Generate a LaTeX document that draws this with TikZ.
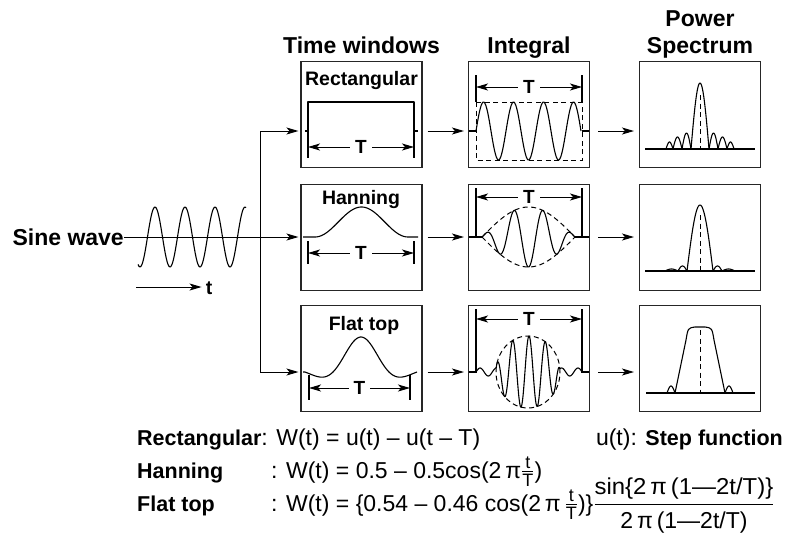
\documentclass[tikz,border=0pt]{standalone}
\usepackage{amsmath}
\usepackage{fontspec}
\setmainfont{Liberation Sans}
\usetikzlibrary{arrows.meta}

\newcommand\hfrac[2]{\ensuremath{\genfrac{}{}{0.7pt}{}{\hbox{\fontsize{18}{18}\selectfont #1}}{\hbox{\fontsize{18}{18}\selectfont #2}}}}
\newcommand\blab[1]{{\fontsize{21.5}{24}\selectfont\bfseries #1}}

\begin{document}
\begin{tikzpicture}[x=1pt,y=-1pt,>={Stealth[length=12pt,width=7pt,inset=3pt]},
  box/.style={draw=black!85,line width=1.1pt,minimum width=121pt,minimum height=106pt,inner sep=0pt},
  flow/.style={->,line width=1pt},
  dim/.style={<->,line width=1pt},
  wave/.style={line width=1.1pt,line join=round},
  env/.style={line width=1pt,dash pattern=on 5pt off 3.5pt},
  head/.style={font=\fontsize{23}{27}\selectfont\bfseries,anchor=base,inner sep=0pt},
  wtitle/.style={font=\fontsize{19.5}{22}\selectfont\bfseries,anchor=base,inner sep=0pt},
  tee/.style={font=\fontsize{19}{22}\selectfont\bfseries,fill=white,inner xsep=5pt,inner ysep=1pt},
  formula/.style={font=\fontsize{23}{26}\selectfont,anchor=base west,inner sep=0pt}]
  \useasboundingbox (0,0) rectangle (792,538);

  \node[head] (hwin) at (361.5,53) {Time windows};
  \node[head] (hint) at (529,53) {Integral};
  \node[head] (hpow) at (700,26) {Power};
  \node[head] (hspec) at (700,53) {Spectrum};

  \node[box] (tw1) at (361.5,114.3) {};
  \node[box] (tw2) at (361.5,237.2) {};
  \node[box] (tw3) at (361.5,358.9) {};
  \node[box] (ig1) at (529,114.3) {};
  \node[box] (ig2) at (529,237.2) {};
  \node[box] (ig3) at (529,358.9) {};
  \node[box] (ps1) at (700,114.3) {};
  \node[box] (ps2) at (700,237.2) {};
  \node[box] (ps3) at (700,358.9) {};

  % input
  \node[head,anchor=east] (sine) at (124,237) {Sine wave};
  \draw[wave] plot[domain=138:246,samples=120] (\x,{237-30*cos(12*(\x-155))});
  \coordinate (lv1) at (260,131);
  \coordinate (lv2) at (260,237);
  \coordinate (lv3) at (260,372);
  \coordinate (tstart) at (136,287);
  \node[wtitle,anchor=center] (tlab) at (209,288) {t};
  \draw[flow,shorten >=4pt] (tstart) -- (tlab.west |- tstart);
  \draw[line width=1pt] (lv1) -- (lv3);
  \draw[flow,shorten >=2pt] (lv1) -- (tw1.west |- lv1);
  \draw[flow,shorten >=2pt] (sine.east) -- (tw2.west |- lv2);
  \draw[flow,shorten >=2pt] (lv3) -- (tw3.west |- lv3);
  \foreach \r in {1,2,3} {
    \draw[flow,shorten <=5pt,shorten >=4pt] (tw\r.east |- lv\r) -- (ig\r.west |- lv\r);
    \draw[flow,shorten <=8pt,shorten >=5pt] (ig\r.east |- lv\r) -- (ps\r.west |- lv\r);
  }

  % time windows
  \node[wtitle] (lrect) at (361.5,85) {Rectangular};
  \draw[wave] (305,131) -- (308,131) -- (308,102) -- (414,102) -- (414,131) -- (418,131);
  \draw[wave] (308,131) -- (308,158) (414,131) -- (414,158);
  \draw[dim] (308,147) -- node[tee] (t1) {T} (414,147);

  \node[wtitle] (lhan) at (361,204.5) {Hanning};
  \draw[wave] (303,237) -- (315,237) -- plot[domain=315:408,samples=60] (\x,{237-30*(0.5-0.5*cos(3.871*(\x-315)))}) -- (418,237);
  \draw[wave] (308,241) -- (308,264) (414,241) -- (414,264);
  \draw[dim] (308,253) -- node[tee] (t2) {T} (414,253);

  \node[wtitle] (lflat) at (364,330) {Flat top};
  \draw[wave] (303,372) -- plot[domain=0:1,samples=100] ({305+112*\x},{372-35*(0.8-0.2*cos(360*\x))*sin(360*(1-2*\x))/(6.2832*(1-2*\x))}) -- (417,372);
  \draw[wave] (309,375) -- (309,400) (410,375) -- (410,400);
  \draw[dim] (309,388) -- node[tee] (t3) {T} (410,388);

  % integral
  \draw[wave] (476,75) -- (476,102) (582,75) -- (582,102);
  \draw[env] (476,102) rectangle (582,160);
  \draw[wave] (469,131) -- (476,131) (582,131) -- (589,131);
  \draw[wave] plot[domain=476:581,samples=120] (\x,{131-29*sin(12*(\x-476))});
  \draw[dim] (476,87) -- node[tee] (t4) {T} (582,87);

  \draw[wave] (476,188) -- (476,238) (582,188) -- (582,238);
  \draw[wave] (469,237) -- (482,237) (575,237) -- (589,237);
  \draw[env] plot[domain=482:575,samples=60] (\x,{237-30*sin(1.9355*(\x-482))});
  \draw[env] plot[domain=482:575,samples=60] (\x,{237+30*sin(1.9355*(\x-482))});
  \draw[wave] plot[domain=482:575,samples=160] (\x,{237+30*sin(1.9355*(\x-482))*cos(12.414*(\x-528.5))});
  \draw[dim] (476,197) -- node[tee] (t5) {T} (582,197);

  \draw[wave] (476,309) -- (476,373) (582,309) -- (582,373);
  \draw[wave] (469,372) -- (476,372) (582,372) -- (589,372);
  \draw[env] (528,372) ellipse [x radius=32pt,y radius=36pt];
  \draw[wave] plot[domain=476:582,samples=220] (\x,{372-max(4,36*sqrt(max(0,1-((\x-528)/32)*((\x-528)/32))))*sin(22.07*(\x-476))});
  \draw[dim] (476,319) -- node[tee] (t6) {T} (582,319);

  % power spectrum
  \draw[wave] (645,149) -- (755,149);
  \draw[wave] plot[domain=691:709,samples=40] (\x,{149-66*cos(10*(\x-700))});
  \foreach \a/\b/\h in {666/673/7,673/682/12,682/691/16,709/718/16,718/727/12,727/734/7}
    \draw[wave] plot[domain=\a:\b,samples=20] (\x,{149-\h*sin(180*(\x-\a)/(\b-\a))});
  \draw[env] (700,95) -- (700,149);

  \draw[wave] (645,271) -- (755,271);
  \draw[wave] plot[domain=687:713,samples=40] (\x,{271-66*cos(6.923*(\x-700))});
  \foreach \a/\b/\h in {665/678/2,678/687/5,713/722/5,722/735/2}
    \draw[wave] plot[domain=\a:\b,samples=20] (\x,{271-\h*sin(180*(\x-\a)/(\b-\a))});
  \draw[env] (700,215) -- (700,271);

  \draw[wave] (646,393) -- (755,393);
  \draw[wave] (675,393) -- (686,340) .. controls (688,328) .. (695,327) -- (705,327)
    .. controls (712,328) .. (714,340) -- (725,393);
  \foreach \a/\b/\h in {667/675/7,725/733/7}
    \draw[wave] plot[domain=\a:\b,samples=20] (\x,{393-\h*sin(180*(\x-\a)/(\b-\a))});
  \draw[env] (700,330) -- (700,393);

  % formulas
  \node[formula] (frect) at (137,445) {\blab{Rectangular}: W(t) = u(t) – u(t – T)};
  \node[formula,anchor=base east] (fstep) at (783,445) {u(t): \blab{Step function}};
  \node[formula] (fhan) at (137,478) {\blab{Hanning}};
  \node[formula] (fhaneq) at (271,478) {: W(t) = 0.5 – 0.5cos(2\,π\hfrac{t}{T})};
  \node[formula] (fflat) at (137,511) {\blab{Flat top}};
  \node[formula] (fflateq) at (271,511) {: W(t) = \{0.54 – 0.46 cos(2\,π\,\hfrac{t}{T})\}\ensuremath{\genfrac{}{}{0.8pt}{0}{\hbox{\scalebox{1.04}[1]{sin\{2\,π\,(1—2t/T)\}}}}{\hbox{2\,π\,(1—2t/T)}}}};
\end{tikzpicture}
\end{document}
